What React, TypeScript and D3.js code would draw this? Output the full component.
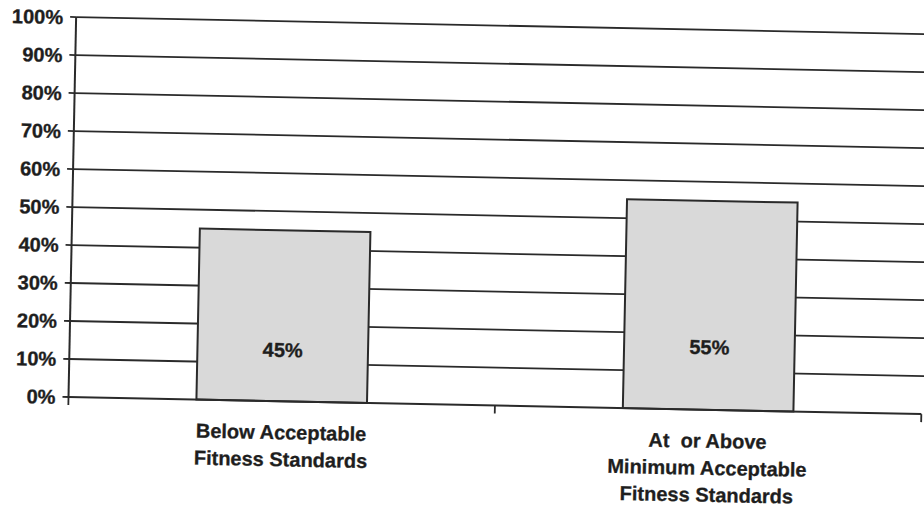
import React from "react";
import * as d3 from "d3";

// Share of participants relative to the fitness standard
const categoryKeys = ["below", "atOrAbove"];
const categoryLines = [
  ["Below Acceptable", "Fitness Standards"],
  ["At  or Above", "Minimum Acceptable", "Fitness Standards"],
];
const shares = [0.45, 0.55];
const shareLabels = ["45%", "55%"];
const yTickValues = [0, 0.1, 0.2, 0.3, 0.4, 0.5, 0.6, 0.7, 0.8, 0.9, 1.0];

const W = 924;
const H = 508;
const originX = 68.5;
const originY = 397;
const plotW = 853;
const plotH = 380;
const tiltDeg = 1.15;
const font = "'Liberation Sans', Arial, Helvetica, sans-serif";
const ink = "#2a2a2a";
const textInk = "#1e1e1e";

export default function App() {
  const x = d3.scaleBand<string>().domain(categoryKeys).range([0, plotW]).padding(0);
  const y = d3.scaleLinear().domain([0, 1]).range([0, -plotH]);
  const pct = d3.format(".0%");
  const barW = x.bandwidth() * 0.4;
  const boundaries = [0, ...categoryKeys.map((k) => (x(k) ?? 0) + x.bandwidth())];

  return (
    <svg
      width={W}
      height={H}
      style={{ position: "absolute", left: 0, top: 0, background: "#ffffff" }}
      fontFamily={font}
      fontWeight="bold"
    >
      <rect width={W} height={H} fill="#ffffff" />
      <g transform={`translate(${originX},${originY}) rotate(${tiltDeg})`}>
        {/* horizontal gridlines */}
        {yTickValues
          .filter((t) => t > 0)
          .map((t) => (
            <line key={`g${t}`} x1={0} x2={plotW + 10} y1={y(t)} y2={y(t)} stroke={ink} strokeWidth={1.8} />
          ))}

        {/* bars */}
        {categoryKeys.map((k, i) => {
          const cx = (x(k) ?? 0) + x.bandwidth() / 2;
          return (
            <g key={k}>
              <rect
                x={cx - barW / 2}
                y={y(shares[i])}
                width={barW}
                height={y(0) - y(shares[i])}
                fill="#d9d9d9"
                stroke={ink}
                strokeWidth={2}
              />
              <text
                x={cx}
                y={y(shares[i] * 0.3)}
                dy="0.35em"
                textAnchor="middle"
                fontSize={20}
                fill={textInk}
                stroke={textInk}
                strokeWidth={0.35}
              >
                {shareLabels[i]}
              </text>
            </g>
          );
        })}

        {/* y axis */}
        <line x1={0} x2={0} y1={0} y2={y(1)} stroke={ink} strokeWidth={2} />
        {yTickValues.map((t) => (
          <g key={`t${t}`}>
            <line x1={-6} x2={0} y1={y(t)} y2={y(t)} stroke={ink} strokeWidth={1.8} />
            <text
              x={-13}
              y={y(t)}
              dy="0.36em"
              textAnchor="end"
              fontSize={20}
              fill={textInk}
              stroke={textInk}
              strokeWidth={0.35}
            >
              {pct(t)}
            </text>
          </g>
        ))}

        {/* x axis */}
        <line x1={0} x2={plotW} y1={0} y2={0} stroke={ink} strokeWidth={2} />
        {boundaries.map((bx, i) => (
          <line key={`b${i}`} x1={bx} x2={bx} y1={0} y2={8} stroke={ink} strokeWidth={1.8} />
        ))}
        {categoryKeys.map((k, i) => {
          const cx = (x(k) ?? 0) + x.bandwidth() / 2;
          return (
            <text
              key={`c${k}`}
              textAnchor="middle"
              fontSize={20}
              fill={textInk}
              stroke={textInk}
              strokeWidth={0.3}
              style={{ whiteSpace: "pre" }}
            >
              {categoryLines[i].map((line, j) => (
                <tspan key={j} x={cx} y={38 + j * 27}>
                  {line}
                </tspan>
              ))}
            </text>
          );
        })}
      </g>
    </svg>
  );
}
